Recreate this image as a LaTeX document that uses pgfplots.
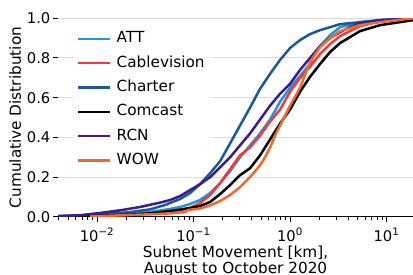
\documentclass[border=0pt]{standalone}
\usepackage{pgfplots}
\pgfplotsset{compat=1.18}
\usepackage{fontspec}
\setmainfont{DejaVu Sans}
\definecolor{cATT}{RGB}{31,150,218}
\definecolor{cCab}{RGB}{242,58,58}
\definecolor{cCha}{RGB}{27,88,150}
\definecolor{cRCN}{RGB}{58,28,140}
\definecolor{cWOW}{RGB}{242,105,45}
\begin{document}
\begin{tikzpicture}
\begin{axis}[
  at={(0,0)}, anchor=south west,
  scale only axis, width=255.6pt, height=143.1pt,
  xmode=log, xmin=0.00394, xmax=18.8, ymin=0, ymax=1,
  axis x line*=bottom, axis y line*=left,
  y axis line style={draw=none},
  x axis line style={-, line width=0.8pt, black},
  tick align=outside,
  major tick length=3.5pt, minor tick length=2pt,
  major tick style={black, line width=0.8pt},
  minor tick style={black, line width=0.6pt},
  xtick={0.01,0.1,1,10},
  xticklabels={10\textsuperscript{−2},10\textsuperscript{−1},10\textsuperscript{0},10\textsuperscript{1}},
  minor xtick={0.004,0.005,0.006,0.007,0.008,0.009,0.02,0.03,0.04,0.05,0.06,0.07,0.08,0.09,0.2,0.3,0.4,0.5,0.6,0.7,0.8,0.9,2,3,4,5,6,7,8,9},
  ytick={0,0.2,0.4,0.6,0.8,1.0},
  yticklabels={0.0,0.2,0.4,0.6,0.8,1.0},
  ymajorgrids, major grid style={black!14, line width=0.8pt},
  tick label style={font=\fontsize{10.6}{12}\selectfont},
  xticklabel style={yshift=-1pt},
  yticklabel style={xshift=1.5pt},
  label style={font=\fontsize{11}{11.6}\selectfont},
  xlabel={Subnet Movement [km],\\August to October 2020},
  xlabel style={align=center, at={(rel axis cs:0.5,0)}, anchor=north, yshift=-17pt},
  ylabel={Cumulative Distribution},
  ylabel style={at={(rel axis cs:0,0.5)}, anchor=south, xshift=0pt, yshift=23pt},
  legend cell align=left,
  legend image code/.code={\draw[#1] (0pt,0pt) -- (23pt,0pt);},
  legend style={at={(rel axis cs:0.04,0.955)}, anchor=north west, draw=none, fill=white,
    font=\fontsize{11}{12}\selectfont, row sep=5pt, column sep=3pt,
    nodes={text height=8.2pt, text depth=2.3pt, inner sep=1pt}},
  every axis plot/.append style={line width=1.8pt},
]
\addplot[cATT] coordinates {(0.00394,0.002) (0.01075,0.008) (0.0220,0.015) (0.0354,0.025) (0.0571,0.04) (0.0725,0.05) (0.092,0.065) (0.1168,0.085) (0.1483,0.12) (0.1883,0.17) (0.239,0.23) (0.303,0.30) (0.385,0.36) (0.489,0.42) (0.621,0.49) (0.788,0.58) (1.0,0.65) (1.27,0.71) (1.61,0.77) (1.8,0.82) (2.05,0.86) (2.60,0.915) (3.30,0.955) (5.31,0.98) (8.57,0.99) (18.8,1.0)};
\addlegendentry{ATT}
\addplot[cCab] coordinates {(0.00394,0.001) (0.01075,0.005) (0.0220,0.01) (0.0354,0.017) (0.0571,0.028) (0.0725,0.035) (0.092,0.045) (0.1168,0.07) (0.1483,0.11) (0.1883,0.17) (0.239,0.24) (0.303,0.31) (0.385,0.35) (0.489,0.41) (0.621,0.48) (0.788,0.54) (1.0,0.63) (1.27,0.70) (1.61,0.755) (2.05,0.82) (2.60,0.87) (3.30,0.91) (5.31,0.96) (8.57,0.985) (18.8,1.0)};
\addlegendentry{Cablevision}
\addplot[cCha] coordinates {(0.00394,0.005) (0.01075,0.012) (0.0220,0.024) (0.0354,0.038) (0.0507,0.06) (0.0725,0.09) (0.092,0.12) (0.1168,0.165) (0.1483,0.22) (0.1883,0.28) (0.239,0.37) (0.303,0.46) (0.385,0.55) (0.489,0.645) (0.621,0.72) (0.788,0.79) (1.0,0.85) (1.27,0.89) (1.61,0.92) (2.05,0.94) (3.30,0.97) (5.31,0.98) (8.57,0.99) (18.8,1.0)};
\addlegendentry{Charter}
\addplot[black] coordinates {(0.00394,0.001) (0.01075,0.006) (0.0220,0.012) (0.0354,0.018) (0.0571,0.03) (0.0725,0.037) (0.092,0.045) (0.1168,0.055) (0.1483,0.075) (0.1883,0.115) (0.239,0.16) (0.303,0.21) (0.385,0.245) (0.489,0.31) (0.621,0.39) (0.788,0.47) (1.0,0.54) (1.27,0.63) (1.61,0.705) (2.05,0.77) (2.60,0.83) (3.30,0.875) (5.31,0.935) (8.57,0.965) (18.8,0.99)};
\addlegendentry{Comcast}
\addplot[cRCN] coordinates {(0.00394,0.003) (0.00667,0.008) (0.01075,0.02) (0.0173,0.033) (0.0279,0.05) (0.045,0.072) (0.0571,0.085) (0.0725,0.105) (0.092,0.135) (0.1168,0.165) (0.1483,0.20) (0.1883,0.25) (0.239,0.30) (0.303,0.36) (0.385,0.42) (0.489,0.49) (0.621,0.56) (0.788,0.62) (1.0,0.67) (1.27,0.74) (1.61,0.80) (2.05,0.86) (2.60,0.90) (3.30,0.93) (4.19,0.955) (5.31,0.975) (8.57,0.99) (18.8,1.0)};
\addlegendentry{RCN}
\addplot[cWOW] coordinates {(0.00846,0.002) (0.01364,0.006) (0.0220,0.01) (0.0354,0.013) (0.0571,0.018) (0.0816,0.024) (0.0877,0.035) (0.1168,0.042) (0.1483,0.058) (0.1883,0.08) (0.239,0.11) (0.303,0.15) (0.385,0.20) (0.489,0.26) (0.551,0.30) (0.621,0.35) (0.700,0.41) (0.788,0.46) (1.0,0.56) (1.27,0.65) (1.61,0.78) (2.05,0.855) (2.60,0.90) (3.30,0.935) (5.31,0.965) (8.57,0.98) (18.8,1.0)};
\addlegendentry{WOW}
\end{axis}
\pgfresetboundingbox
\path (-41.8pt,-41.8pt) rectangle (255.6pt,156.2pt);
\end{tikzpicture}
\end{document}
